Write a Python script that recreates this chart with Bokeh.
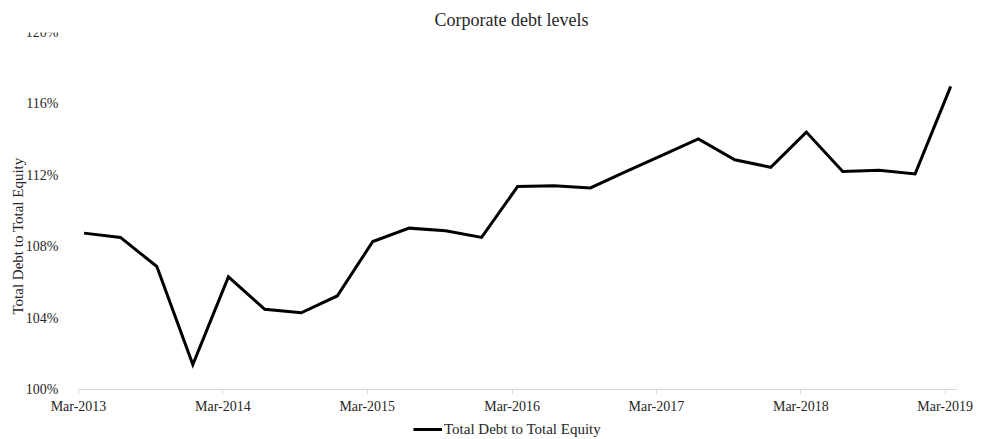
import pandas as pd
from bokeh.plotting import figure
from bokeh.models import (ColumnDataSource, FixedTicker, DatetimeTickFormatter,
                          Legend, LegendItem, Range1d, NumeralTickFormatter)
from bokeh.embed import file_html
from bokeh.resources import INLINE

# quarter dates (mid-month of each quarter end)
quarters = ["2013-03", "2013-06", "2013-09", "2013-12",
            "2014-03", "2014-06", "2014-09", "2014-12",
            "2015-03", "2015-06", "2015-09", "2015-12",
            "2016-03", "2016-06", "2016-09", "2016-12",
            "2017-03", "2017-06", "2017-09", "2017-12",
            "2018-03", "2018-06", "2018-09", "2018-12",
            "2019-03"]
debt_to_equity = [108.76, 108.52, 106.89, 101.40,
                  106.31, 104.49, 104.30, 105.24,
                  108.29, 109.04, 108.89, 108.52,
                  111.37, 111.42, 111.29, 112.22,
                  113.11, 114.04, 112.87, 112.45,
                  114.42, 112.21, 112.28, 112.08,
                  116.98]
tick_dates = ["2013-03-01", "2014-03-01", "2015-03-01", "2016-03-01",
              "2017-03-01", "2018-03-01", "2019-03-01"]
y_ticks = [100, 104, 108, 112, 116, 120]

dates = pd.to_datetime([q + "-15" for q in quarters])
src = ColumnDataSource(dict(x=dates, y=[v / 100 for v in debt_to_equity]))

FONT = "Liberation Serif"
TXT = "#262626"

axis_start = pd.Timestamp("2013-03-01")
axis_end = pd.Timestamp("2019-04-01")
ms = lambda t: pd.Timestamp(t).value // 10**6

# The frame fills the whole canvas (below the title) so that axes pinned
# inside it and the legend are not clipped.
p = figure(width=981, height=439, output_backend="svg", toolbar_location=None,
           x_axis_type="datetime",
           x_range=Range1d(axis_start - pd.Timedelta(days=197.2),
                           pd.Timestamp("2019-03-01") + pd.Timedelta(days=91.8)),
           y_range=Range1d(0.97199, 1.20),
           min_border_left=0, min_border_right=0, min_border_top=32,
           min_border_bottom=0)
p.outline_line_color = None
p.grid.visible = False

r = p.line("x", "y", source=src, line_color="black", line_width=3,
           line_join="miter")

p.title.text = "Corporate debt levels"
p.title.align = "left"
p.title.offset = 434
p.title.text_font = FONT
p.title.text_font_size = "18px"
p.title.text_font_style = "normal"
p.title.text_color = TXT
p.title.standoff = 6

xa = p.xaxis[0]
xa.fixed_location = 1.0
xa.bounds = (ms(axis_start), ms(axis_end))
xa.ticker = FixedTicker(ticks=[ms(t) for t in tick_dates])
fmt = "%b-%Y"
xa.formatter = DatetimeTickFormatter(milliseconds=fmt, seconds=fmt, minsec=fmt,
                                     minutes=fmt, hourmin=fmt, hours=fmt,
                                     days=fmt, months=fmt, years=fmt)
xa.axis_line_color = "#d9d9d9"
xa.axis_line_width = 1
xa.major_tick_line_color = "#d9d9d9"
xa.major_tick_in = 0
xa.major_tick_out = 5
xa.minor_tick_line_color = None
xa.major_label_text_font = FONT
xa.major_label_text_font_size = "14px"
xa.major_label_text_color = TXT
xa.major_label_standoff = 4

ya = p.yaxis[0]
ya.fixed_location = ms(axis_start)
ya.ticker = FixedTicker(ticks=[t / 100 for t in y_ticks])
ya.formatter = NumeralTickFormatter(format="0%")
ya.axis_line_color = None
ya.major_tick_line_color = None
ya.minor_tick_line_color = None
ya.major_label_text_font = FONT
ya.major_label_text_font_size = "14px"
ya.major_label_text_color = TXT
ya.major_label_standoff = 14
ya.axis_label = "Total Debt to Total Equity"
ya.axis_label_text_font = FONT
ya.axis_label_text_font_size = "15px"
ya.axis_label_text_font_style = "normal"
ya.axis_label_text_color = TXT
ya.axis_label_standoff = -3

legend = Legend(items=[LegendItem(label="Total Debt to Total Equity", renderers=[r])],
                orientation="horizontal", location=(413, 1),
                label_text_font=FONT, label_text_font_size="15px",
                label_text_color=TXT, glyph_width=29, glyph_height=18,
                label_height=18,
                label_standoff=2, padding=0, margin=0, spacing=0,
                border_line_color=None, background_fill_alpha=0)
p.add_layout(legend)

open("out.html", "w").write(file_html(p, INLINE))
